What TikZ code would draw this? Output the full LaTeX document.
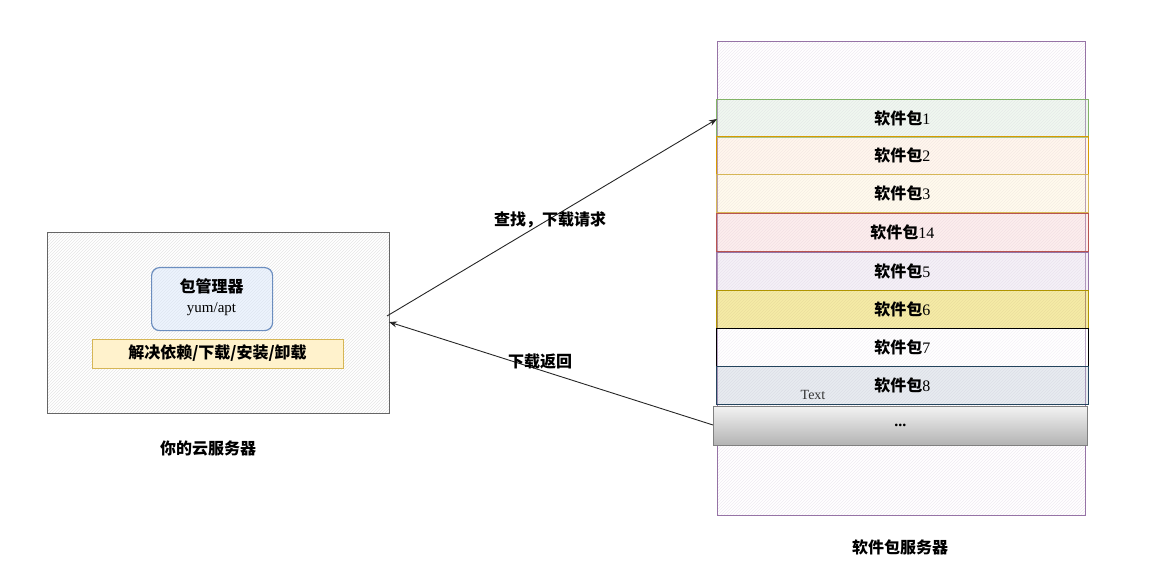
\documentclass[tikz,border=0pt]{standalone}
\usepackage{fontspec}
\setmainfont{Liberation Serif}
\newfontfamily\cjk{Noto Sans CJK SC}
\usetikzlibrary{patterns,arrows.meta}
\tikzset{
 lbl/.style={font=\cjk\bfseries\fontsize{16}{18}\selectfont},
 pkg/.style={draw=#1,line width=0.9pt,minimum width=372pt,minimum height=38pt,anchor=north west,inner sep=0pt,font=\cjk\bfseries\fontsize{16}{18}\selectfont},
 conn/.style={-{Stealth[length=8pt]},line width=0.9pt,black!85}
}
\definecolor{bl}{HTML}{6C8EBF}\definecolor{blf}{HTML}{DAE8FC}
\definecolor{c1}{HTML}{82B366}\definecolor{f1}{HTML}{D5E8D4}
\definecolor{c2}{HTML}{D79B00}\definecolor{f2}{HTML}{FFE6CC}
\definecolor{c3}{HTML}{D6B656}\definecolor{f3}{HTML}{FFF2CC}
\definecolor{c4}{HTML}{B85450}\definecolor{f4}{HTML}{F8CECC}
\definecolor{c5}{HTML}{9673A6}\definecolor{f5}{HTML}{E1D5E7}
\definecolor{c6}{HTML}{B09500}\definecolor{f6}{HTML}{E3C800}
\definecolor{c8}{HTML}{23445D}\definecolor{f8}{HTML}{BAC8D3}
\begin{document}
\begin{tikzpicture}[x=1pt,y=-1pt]
\useasboundingbox (0,0) rectangle (1160,588);
% left server
\node[draw=black!60,line width=0.8pt,pattern=north east lines,pattern color=black!10,minimum width=342pt,minimum height=181pt,anchor=north west,inner sep=0pt] (srv) at (47,232) {};
\node[draw=black!60,line width=0.8pt,minimum width=342pt,minimum height=181pt,anchor=north west,inner sep=0pt] at (47,232) {};
\node[draw=bl,fill=blf,fill opacity=0.5,rounded corners=8pt,line width=1.2pt,minimum width=121pt,minimum height=63pt,anchor=north west,inner sep=0pt] (pm) at (151,267) {};
\node[lbl] (pmt) at (211.5,286) {包管理器};
\node[font=\fontsize{15}{17}\selectfont] (pmy) at (211.5,309) {yum/apt};
\node[draw=c3,fill=f3,minimum width=251pt,minimum height=29pt,anchor=north west,inner sep=0pt] (dep) at (92,339) {};
\node[lbl] at (217.5,353.5) {解决依赖/下载/安装/卸载};
\node[lbl] (srvlbl) at (208,448) {你的云服务器};
% right server
\node[draw=c5,line width=0.8pt,pattern=north east lines,pattern color=c5!15,minimum width=368pt,minimum height=474pt,anchor=north west,inner sep=0pt] (repo) at (717,41) {};
\node[draw=c5,line width=0.8pt,minimum width=368pt,minimum height=474pt,anchor=north west,inner sep=0pt] at (717,41) {};
\def\pk#1#2#3#4#5{\node[pkg=#2,fill=#3,fill opacity=0.35,text opacity=1] (#1) at (716,#4) {#5};}
\pk{p1}{c1}{f1}{99}{软件包{\rmfamily\mdseries 1}}
\pk{p2}{c2}{f2}{136}{软件包{\rmfamily\mdseries 2}}
\pk{p3}{c3}{f3}{174}{软件包{\rmfamily\mdseries 3}}
\pk{p14}{c4}{f4}{213}{软件包{\rmfamily\mdseries 14}}
\pk{p5}{c5}{f5}{252}{软件包{\rmfamily\mdseries 5}}
\pk{p6}{c6}{f6}{290}{软件包{\rmfamily\mdseries 6}}
\pk{p7}{black}{white}{328}{软件包{\rmfamily\mdseries 7}}
\pk{p8}{c8}{f8}{366}{软件包{\rmfamily\mdseries 8}}
\node[font=\fontsize{14}{16}\selectfont,black!80] (txt) at (813,395) {Text};
\node[draw=black!50,line width=0.8pt,top color=black!5,bottom color=black!30,minimum width=374pt,minimum height=39pt,anchor=north west,inner sep=0pt,font=\bfseries\fontsize{16}{18}\selectfont] (dots) at (713,406) {...};
\node[lbl] (repolbl) at (900,547) {软件包服务器};
% connectors
\coordinate (a1) at (387,316);
\coordinate (a2) at (717,119);
\coordinate (b1) at (713,425);
\coordinate (b2) at (389,322);
\draw[conn] (a1) -- (a2);
\draw[conn] (b1) -- (b2);
\node[lbl] at (550,220) {查找，下载请求};
\node[lbl] at (540,362) {下载返回};
\end{tikzpicture}
\end{document}
